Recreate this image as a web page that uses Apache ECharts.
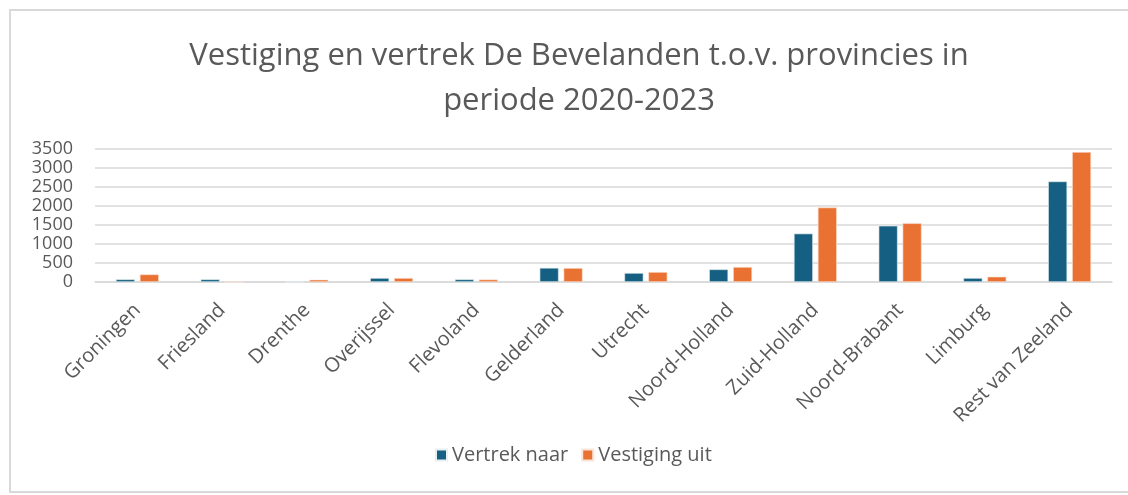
<!DOCTYPE html>
<html>
<head>
<meta charset="utf-8">
<script src="https://cdn.jsdelivr.net/npm/echarts@6/dist/echarts.min.js"></script>
<style>
  html, body { margin: 0; padding: 0; background: #fff; }
  #chart { width: 1128px; height: 495px; }
</style>
</head>
<body>
<div id="chart"></div>
<script>
var provinces = ["Groningen", "Friesland", "Drenthe", "Overijssel", "Flevoland", "Gelderland",
  "Utrecht", "Noord-Holland", "Zuid-Holland", "Noord-Brabant", "Limburg", "Rest van Zeeland"];
var vertrekNaar = [70, 70, 0, 105, 70, 372, 237, 333, 1275, 1480, 105, 2647];
var vestigingUit = [200, 0, 60, 105, 65, 368, 263, 395, 1960, 1545, 140, 3421];
var yTicks = [0, 500, 1000, 1500, 2000, 2500, 3000, 3500];

var textColor = "#595959";
var font = "Open Sans";

var myChart = echarts.init(document.getElementById("chart"));
var option = {
  backgroundColor: "#fff",
  animation: false,
  textStyle: { fontFamily: font },
  title: {
    text: "Vestiging en vertrek De Bevelanden t.o.v. provincies in\nperiode 2020-2023",
    left: 574,
    textAlign: "center",
    top: 29,
    textStyle: {
      fontFamily: font,
      fontSize: 31,
      fontWeight: "normal",
      color: textColor,
      lineHeight: 45
    }
  },
  graphic: [{
    type: "rect",
    shape: { x: 10, y: 10, width: 1130, height: 482 },
    style: { fill: "none", stroke: "#d9d9d9", lineWidth: 2 },
    silent: true
  }],
  legend: {
    data: ["Vertrek naar", "Vestiging uit"],
    left: 430,
    top: 440,
    itemWidth: 11,
    itemHeight: 11,
    itemGap: 13,
    icon: "rect",
    textStyle: { fontFamily: font, fontSize: 20, color: textColor }
  },
  grid: { left: 95, right: 16, top: 149, bottom: 213 },
  xAxis: {
    type: "category",
    data: provinces,
    axisLine: { show: true, lineStyle: { color: "#d9d9d9", width: 1.5 } },
    axisTick: { show: false },
    axisLabel: {
      rotate: 45,
      interval: 0,
      margin: 25,
      fontFamily: font,
      fontSize: 20,
      color: textColor
    }
  },
  yAxis: {
    type: "value",
    min: yTicks[0],
    max: yTicks[yTicks.length - 1],
    interval: 500,
    axisLine: { show: false },
    axisTick: { show: false },
    splitLine: { lineStyle: { color: "#d9d9d9", width: 1.5 } },
    axisLabel: {
      margin: 22,
      fontFamily: font,
      fontSize: 18,
      color: textColor,
      formatter: function (v) { return String(v); }
    }
  },
  series: [
    {
      name: "Vertrek naar",
      type: "bar",
      data: vertrekNaar,
      barWidth: 19,
      barGap: "26%",
      itemStyle: { color: "#156082", borderColor: "#e8eef2", borderWidth: 0.6 }
    },
    {
      name: "Vestiging uit",
      type: "bar",
      data: vestigingUit,
      barWidth: 19,
      itemStyle: { color: "#E97132", borderColor: "#fbe4d8", borderWidth: 0.6 }
    }
  ]
};
myChart.setOption(option);
window.addEventListener("resize", function () {
  myChart.resize();
});
</script>
</body>
</html>
